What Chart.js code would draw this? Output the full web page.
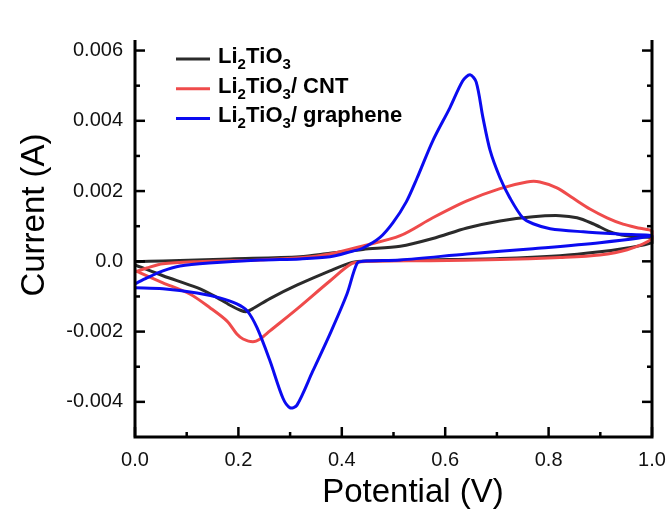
<!DOCTYPE html>
<html>
<head>
<meta charset="utf-8">
<script src="https://cdn.jsdelivr.net/npm/chart.js@4/dist/chart.umd.min.js"></script>
<style>
  html, body { margin: 0; padding: 0; background: #fff; }
  #wrap { width: 669px; height: 510px; }
</style>
</head>
<body>
<div id="wrap"><canvas id="c" width="669" height="510"></canvas></div>
<script>
// ---- Data (potential in V, current in A), each loop: forward sweep then reverse sweep ----
const potentialBlack = [0, 0.054, 0.184, 0.319, 0.377, 0.441, 0.513, 0.576, 0.642, 0.706, 0.770, 0.822, 0.855, 0.886, 0.925, 0.963, 1.0,
                        1.0, 0.952, 0.899, 0.822, 0.706, 0.571, 0.45, 0.42, 0.377, 0.313, 0.261, 0.230, 0.216, 0.205, 0.184, 0.151, 0.120, 0.054, 0.010, 0];
const currentBlack   = [-0.00001, 0.00001, 0.00007, 0.00013, 0.00023, 0.00034, 0.00043, 0.00065, 0.00095, 0.00115, 0.00127, 0.0013, 0.00124, 0.00107, 0.00081, 0.0007, 0.00067,
                        0.00053, 0.00038, 0.00027, 0.00016, 0.00008, 0.00004, 0.00001, -0.00003, -0.00027, -0.00068, -0.00106, -0.00133, -0.00143, -0.0014, -0.00125, -0.00097, -0.00075, -0.00041, -0.00016, -0.0001];

const potentialRed = [0, 0.023, 0.054, 0.120, 0.242, 0.319, 0.377, 0.441, 0.513, 0.576, 0.642, 0.706, 0.758, 0.783, 0.816, 0.847, 0.880, 0.913, 0.944, 0.977, 1.0,
                      1.0, 0.952, 0.899, 0.822, 0.706, 0.571, 0.45, 0.42, 0.377, 0.313, 0.261, 0.242, 0.228, 0.209, 0.197, 0.178, 0.145, 0.106, 0.054, 0.010, 0];
const currentRed   = [-0.0003, -0.00019, -0.00007, -0.00001, 0.00004, 0.0001, 0.00021, 0.00044, 0.00073, 0.00124, 0.00172, 0.00207, 0.00226, 0.00226, 0.00209, 0.0018, 0.00149, 0.00124, 0.00106, 0.00094, 0.00086,
                      0.00064, 0.00033, 0.00018, 0.00011, 0.00005, 0.00002, 0.0, -0.00006, -0.00056, -0.00136, -0.00198, -0.00221, -0.00229, -0.00221, -0.00207, -0.0017, -0.00132, -0.00093, -0.00061, -0.00033, -0.00027];

const potentialBlue = [0, 0.023, 0.054, 0.087, 0.151, 0.242, 0.319, 0.377, 0.416, 0.441, 0.474, 0.499, 0.525, 0.545, 0.576, 0.609, 0.634, 0.648, 0.660, 0.673, 0.687, 0.706, 0.725, 0.750, 0.770, 0.803, 0.867, 0.932, 1.0,
                       0.899, 0.770, 0.642, 0.513, 0.441, 0.429, 0.410, 0.377, 0.344, 0.313, 0.300, 0.286, 0.261, 0.236, 0.217, 0.197, 0.164, 0.120, 0.054, 0];
const currentBlue   = [-0.00064, -0.00047, -0.00027, -0.00013, -0.00004, 0.00004, 0.00007, 0.00013, 0.00027, 0.00038, 0.00068, 0.0011, 0.0017, 0.00235, 0.00343, 0.00437, 0.00514, 0.00531, 0.0051, 0.00409, 0.00315, 0.00238, 0.00181, 0.00124, 0.00107, 0.00093, 0.00084, 0.00078, 0.00073,
                       0.00053, 0.00036, 0.00021, 0.00004, 0.0, -0.00007, -0.00093, -0.00207, -0.00312, -0.00410, -0.00417, -0.00389, -0.00283, -0.00189, -0.00141, -0.00121, -0.00104, -0.0009, -0.00078, -0.00075];

const seriesLabels = ['Li₂TiO₃', 'Li₂TiO₃/ CNT', 'Li₂TiO₃/ graphene'];
const xTickValues = [0, 0.2, 0.4, 0.6, 0.8, 1.0];
const xTickLabels = ['0.0', '0.2', '0.4', '0.6', '0.8', '1.0'];
const xMinorTicks = [0.1, 0.3, 0.5, 0.7, 0.9];
const yTickValues = [-0.004, -0.002, 0, 0.002, 0.004, 0.006];
const yTickLabels = ['-0.004', '-0.002', '0.0', '0.002', '0.004', '0.006'];
const yMinorTicks = [-0.003, -0.001, 0.001, 0.003, 0.005];
const xTitle = 'Potential (V)';
const yTitle = 'Current (A)';

const FONT = '"Liberation Sans", Arial, Helvetica, sans-serif';

function pts(xs, ys) { return xs.map((v, i) => ({ x: v, y: ys[i] })); }

const frame = {
  id: 'frame',
  afterDatasetsDraw(chart) {
    const { ctx, chartArea: a, scales: { x, y } } = chart;
    ctx.save();
    ctx.strokeStyle = '#000';
    ctx.lineCap = 'butt';
    ctx.lineWidth = 2.5;
    const seg = (x1, y1, x2, y2) => { ctx.beginPath(); ctx.moveTo(x1, y1); ctx.lineTo(x2, y2); ctx.stroke(); };
    xTickValues.forEach(v => { const p = x.getPixelForValue(v); seg(p, a.bottom, p, a.bottom - 10); });
    xMinorTicks.forEach(v => { const p = x.getPixelForValue(v); seg(p, a.bottom, p, a.bottom - 5); });
    yTickValues.forEach(v => { const p = y.getPixelForValue(v); seg(a.left, p, a.left + 10, p); seg(a.right, p, a.right - 10, p); });
    yMinorTicks.forEach(v => { const p = y.getPixelForValue(v); seg(a.left, p, a.left + 5, p); seg(a.right, p, a.right - 5, p); });
    ctx.lineWidth = 3;
    ctx.lineJoin = 'miter';
    ctx.beginPath();
    ctx.moveTo(a.left, a.top);
    ctx.lineTo(a.left, a.bottom);
    ctx.lineTo(a.right, a.bottom);
    ctx.lineTo(a.right, a.top);
    ctx.stroke();

    // axis titles
    ctx.fillStyle = '#000';
    ctx.font = '33px ' + FONT;
    ctx.textAlign = 'center';
    ctx.textBaseline = 'alphabetic';
    ctx.fillText(xTitle, 413, 502);
    ctx.save();
    ctx.translate(44, 215);
    ctx.rotate(-Math.PI / 2);
    ctx.fillText(yTitle, 0, 0);
    ctx.restore();

    // legend with subscripts
    const subMap = { '₂': '2', '₃': '3' };
    [0, 1, 2].forEach(i => {
      const ds = chart.data.datasets[i];
      const base = 63 + i * 29.7;
      const ly = base - 4;
      ctx.strokeStyle = ds.borderColor;
      ctx.lineWidth = 3;
      seg(176, ly, 210, ly);
      let cx = 218;
      ctx.textAlign = 'left';
      ctx.fillStyle = '#000';
      for (const ch of ds.label) {
        if (subMap[ch]) {
          ctx.font = 'bold 15px ' + FONT;
          ctx.fillText(subMap[ch], cx, base + 6);
          cx += ctx.measureText(subMap[ch]).width;
        } else {
          ctx.font = 'bold 22px ' + FONT;
          ctx.fillText(ch, cx, base);
          cx += ctx.measureText(ch).width;
        }
      }
    });
    ctx.restore();
  }
};

const common = { showLine: true, pointRadius: 0, borderWidth: 3, tension: 0.3, fill: false, clip: 4 };

new Chart(document.getElementById('c'), {
  type: 'scatter',
  data: {
    datasets: [
      Object.assign({ label: seriesLabels[0], data: pts(potentialBlack, currentBlack), borderColor: '#2b2b2b', order: 2 }, common),
      Object.assign({ label: seriesLabels[1], data: pts(potentialRed, currentRed), borderColor: '#ef4b4b', order: 1 }, common),
      Object.assign({ label: seriesLabels[2], data: pts(potentialBlue, currentBlue), borderColor: '#0b0bf0', order: 0 }, common)
    ]
  },
  options: {
    responsive: false,
    animation: false,
    events: [],
    layout: { padding: { left: 0, right: 17, top: 40, bottom: 0 } },
    plugins: { legend: { display: false }, tooltip: { enabled: false }, title: { display: false } },
    scales: {
      x: {
        type: 'linear', min: 0, max: 1,
        grid: { display: false, drawTicks: false },
        border: { display: false },
        afterBuildTicks: s => { s.ticks = xTickValues.map(v => ({ value: v })); },
        afterFit: s => { s.height = 73; s.paddingLeft = 0; s.paddingRight = 0; },
        ticks: {
          padding: 11, color: '#111', font: { family: FONT, size: 20 }, maxRotation: 0, autoSkip: false,
          callback: (v) => { const i = xTickValues.findIndex(t => Math.abs(t - v) < 1e-9); return i >= 0 ? xTickLabels[i] : ''; }
        }
      },
      y: {
        type: 'linear', min: -0.005, max: 0.0063,
        grid: { display: false, drawTicks: false },
        border: { display: false },
        afterBuildTicks: s => { s.ticks = yTickValues.map(v => ({ value: v })); },
        afterFit: s => { s.width = 135; s.paddingTop = 0; s.paddingBottom = 0; },
        ticks: {
          padding: 12, color: '#111', font: { family: FONT, size: 20 }, autoSkip: false,
          callback: (v) => { const i = yTickValues.findIndex(t => Math.abs(t - v) < 1e-9); return i >= 0 ? yTickLabels[i] : ''; }
        }
      }
    }
  },
  plugins: [frame]
});
</script>
</body>
</html>
